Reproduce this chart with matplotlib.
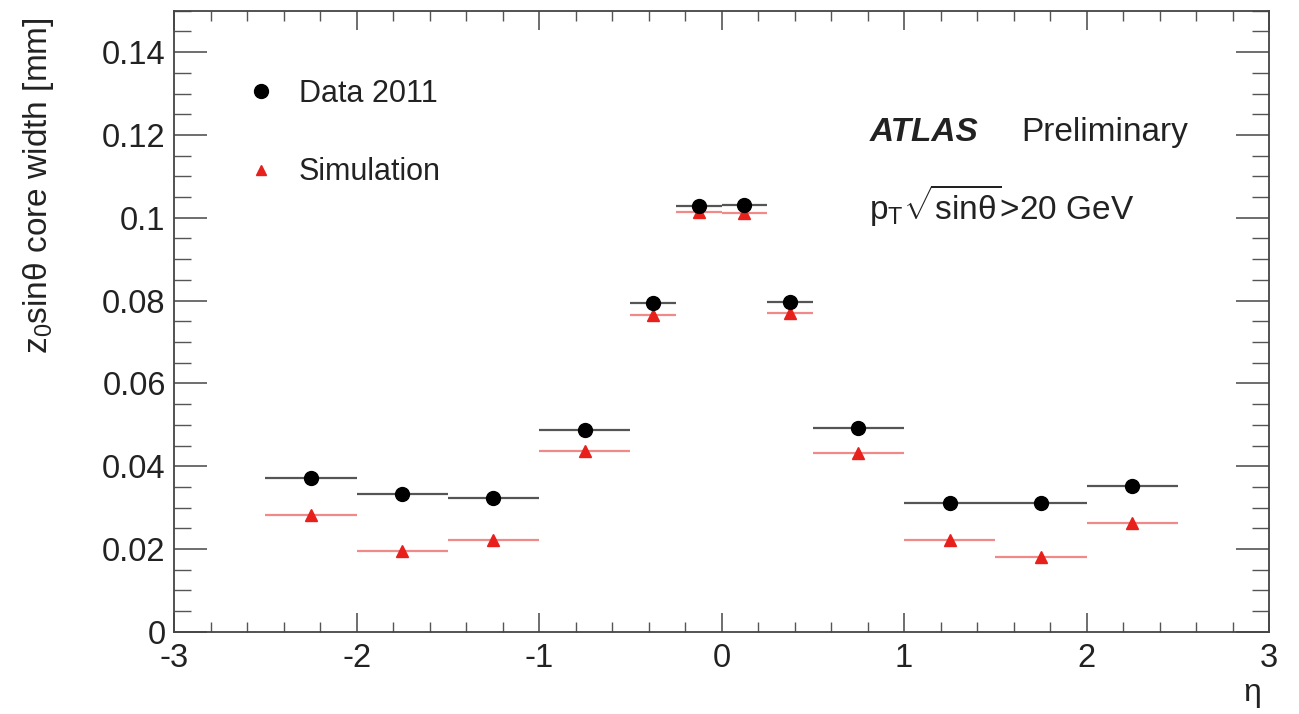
import matplotlib
matplotlib.use("Agg")
import matplotlib.pyplot as plt
from matplotlib.lines import Line2D
from matplotlib.ticker import MultipleLocator, FuncFormatter
import numpy as np

# eta bins (edges) and measured core widths
bin_lo = [-2.5, -2.0, -1.5, -1.0, -0.5, -0.25, 0.0, 0.25, 0.5, 1.0, 1.5, 2.0]
bin_hi = [-2.0, -1.5, -1.0, -0.5, -0.25, 0.0, 0.25, 0.5, 1.0, 1.5, 2.0, 2.5]
data_2011 = [0.0372, 0.0334, 0.0324, 0.0487, 0.0793, 0.1028, 0.1030, 0.0797,
             0.0492, 0.0312, 0.0312, 0.0353]
simulation = [0.0283, 0.0196, 0.0221, 0.0438, 0.0765, 0.1014, 0.1011, 0.0770,
              0.0433, 0.0221, 0.0181, 0.0263]

plt.rcParams["font.family"] = ["Liberation Sans", "DejaVu Sans"]
plt.rcParams["axes.unicode_minus"] = False
plt.rcParams["mathtext.fontset"] = "custom"
plt.rcParams["mathtext.rm"] = "Liberation Sans"
plt.rcParams["mathtext.it"] = "Liberation Sans:italic"
plt.rcParams["mathtext.bf"] = "Liberation Sans:bold"

lo = np.array(bin_lo)
hi = np.array(bin_hi)
centers = (lo + hi) / 2
half = (hi - lo) / 2

fig = plt.figure(figsize=(12.99, 7.14), dpi=100)
ax = fig.add_axes([0.134, 0.115, 0.843, 0.870])

ax.errorbar(centers, simulation, xerr=half, fmt="^", color="#e8201c",
            ecolor="#f08a88", elinewidth=1.6, ms=9, capsize=0, zorder=3)
ax.errorbar(centers, data_2011, xerr=half, fmt="o", color="black",
            ecolor="#555555", elinewidth=1.6, ms=10, capsize=0, zorder=4)

ax.set_xlim(-3, 3)
ax.set_ylim(0, 0.15)

ax.xaxis.set_major_locator(MultipleLocator(1))
ax.xaxis.set_minor_locator(MultipleLocator(0.2))
ax.yaxis.set_major_locator(MultipleLocator(0.02))
ax.yaxis.set_minor_locator(MultipleLocator(0.005))
ax.yaxis.set_major_formatter(FuncFormatter(lambda v, p: f"{v:g}"))
ax.xaxis.set_major_formatter(FuncFormatter(lambda v, p: f"{v:g}"))

ax.tick_params(axis="both", which="both", direction="in", top=True, right=True,
               color="#555555", labelsize=23.5, labelcolor="#222222")
ax.tick_params(axis="y", which="major", length=24, width=1.2, pad=6)
ax.tick_params(axis="y", which="minor", length=12, width=1.0)
ax.tick_params(axis="x", which="major", length=14, width=1.2, pad=8)
ax.tick_params(axis="x", which="minor", length=7, width=1.0)
for s in ax.spines.values():
    s.set_color("#444444")
    s.set_linewidth(1.3)

ax.set_ylabel("z$_0$sinθ core width [mm]", fontsize=24, color="#222222")
ax.yaxis.set_label_coords(-0.108, 0.99)
ax.yaxis.label.set_ha("right")
ax.set_xlabel("η", fontsize=23, color="#222222", loc="right")
ax.xaxis.set_label_coords(0.993, -0.075)

handles = [
    Line2D([], [], ls="none", marker="o", color="black", ms=10),
    Line2D([], [], ls="none", marker="^", color="#e8201c", ms=7),
]
ax.legend(handles, ["Data 2011", "Simulation"], loc="upper left",
          bbox_to_anchor=(0.04, 0.935), frameon=False, fontsize=22,
          labelspacing=1.6, handletextpad=0.75, handlelength=1.0,
          labelcolor="#222222")

ax.text(0.635, 0.79, "ATLAS", transform=ax.transAxes, fontsize=24,
        fontweight="bold", fontstyle="italic", color="#222222")
ax.text(0.774, 0.79, "Preliminary", transform=ax.transAxes, fontsize=24,
        color="#222222")
ax.text(0.635, 0.665, r"p$_\mathrm{T}$$\sqrt{\mathrm{sin\theta}}$>20 GeV",
        transform=ax.transAxes, fontsize=24, color="#222222")

fig.savefig("out.png", dpi=100, facecolor="white")
